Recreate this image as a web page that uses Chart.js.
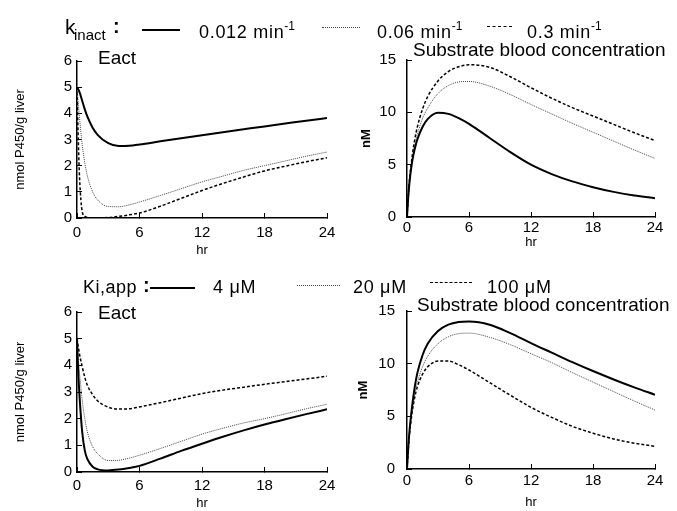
<!DOCTYPE html>
<html>
<head>
<meta charset="utf-8">
<script src="https://cdn.jsdelivr.net/npm/chart.js@4.4.0/dist/chart.umd.min.js"></script>
<style>
  body { margin: 0; background: #fff; }
  #fig { position: relative; width: 677px; height: 511px; background: #fff; overflow: hidden;
         font-family: "Liberation Sans", Arial, sans-serif; color: #000; }
  #fig canvas { position: absolute; }
  .t { position: absolute; white-space: nowrap; line-height: 1; }
  .lab { font-size: 18px; letter-spacing: 0.7px; }
  .lab sup { font-size: 12px; position: relative; top: -1px; letter-spacing: 0; }
  .ptitle { font-size: 19px; }
  .ln { position: absolute; height: 0; }
</style>
</head>
<body>
<div id="fig">
  <canvas id="eactK" width="350" height="229" style="left:0;top:31px"></canvas>
  <canvas id="concK" width="337" height="230" style="left:340px;top:30px"></canvas>
  <canvas id="eactKi" width="350" height="229" style="left:0;top:282px"></canvas>
  <canvas id="concKi" width="337" height="230" style="left:340px;top:281px"></canvas>

  <!-- top legend: k_inact -->
  <span class="t" style="left:65px;top:16px;font-size:21px">k</span>
  <span class="t" style="left:74px;top:27px;font-size:15px">inact</span>
  <span class="t" style="left:113px;top:16px;font-size:20px;font-weight:bold">:</span>
  <div class="ln" style="left:142px;top:29px;width:38px;border-top:2px solid #000"></div>
  <span class="t lab" id="kLab0" style="left:199px;top:21px"></span>
  <div class="ln" style="left:322px;top:27px;width:38px;border-top:1px dotted #444"></div>
  <span class="t lab" id="kLab1" style="left:377px;top:21px"></span>
  <div class="ln" style="left:487px;top:26px;width:25px;border-top:1.5px dashed #000"></div>
  <span class="t lab" id="kLab2" style="left:527px;top:21px"></span>

  <!-- bottom legend: Ki,app -->
  <span class="t lab" style="left:83px;top:278px;letter-spacing:0.5px">Ki,app</span>
  <span class="t" style="left:143px;top:275px;font-size:20px;font-weight:bold">:</span>
  <div class="ln" style="left:150px;top:287px;width:45px;border-top:2px solid #000"></div>
  <span class="t lab" id="kiLab0" style="left:213px;top:278px"></span>
  <div class="ln" style="left:297px;top:285px;width:43px;border-top:1px dotted #444"></div>
  <span class="t lab" id="kiLab1" style="left:353px;top:278px"></span>
  <div class="ln" style="left:430px;top:282px;width:42px;border-top:1.5px dashed #000"></div>
  <span class="t lab" id="kiLab2" style="left:487px;top:278px"></span>

  <!-- panel titles -->
  <span class="t ptitle" style="left:98px;top:48px">Eact</span>
  <span class="t ptitle" style="left:413px;top:40px">Substrate blood concentration</span>
  <span class="t ptitle" style="left:98px;top:303px">Eact</span>
  <span class="t ptitle" style="left:417px;top:295px">Substrate blood concentration</span>
</div>

<script>
// sampling times (hr), shared by every curve
const hours = [0, 0.1, 0.25, 0.5, 0.75, 1, 1.5, 2, 3, 4, 5, 6, 8, 10, 12, 14, 16, 18, 20, 22, 24];

// legend labels
const kinactLabels = ['0.012', '0.06', '0.3'];
const kiLabels = ['4 \u03bcM', '20 \u03bcM', '100 \u03bcM'];

// tick labels
const hourTicks = [0, 6, 12, 18, 24];
const eactTicks = [0, 1, 2, 3, 4, 5, 6];
const concTicks = [0, 5, 10, 15];

// Eact (nmol P450/g liver), varying k_inact
const eactK012 = [5.0, 4.93, 4.8, 4.48, 4.15, 3.87, 3.45, 3.17, 2.86, 2.75, 2.76, 2.81, 2.93, 3.05, 3.16, 3.28, 3.39, 3.5, 3.61, 3.72, 3.82];
const eactK06  = [5.0, 4.5, 3.8, 2.8, 2.1, 1.6, 1.0, 0.68, 0.44, 0.43, 0.5, 0.61, 0.86, 1.12, 1.38, 1.6, 1.82, 2.0, 2.18, 2.36, 2.52];
const eactK3   = [5.0, 3.3, 1.5, 0.25, 0.06, 0.02, 0.01, 0.01, 0.02, 0.06, 0.12, 0.19, 0.45, 0.75, 1.05, 1.32, 1.57, 1.8, 1.98, 2.15, 2.3];

// substrate blood concentration (nM), varying k_inact
const concK012 = [0, 1.6, 3.4, 5.3, 6.5, 7.4, 8.6, 9.35, 9.95, 9.85, 9.45, 8.9, 7.55, 6.2, 5.0, 4.1, 3.4, 2.85, 2.4, 2.05, 1.8];
const concK06  = [0, 1.6, 3.5, 5.5, 6.9, 7.9, 9.4, 10.4, 11.8, 12.55, 12.9, 12.95, 12.5, 11.7, 10.75, 9.85, 8.95, 8.1, 7.25, 6.4, 5.6];
const concK3   = [0, 1.7, 3.6, 5.8, 7.4, 8.6, 10.3, 11.5, 13.0, 13.9, 14.35, 14.55, 14.3, 13.4, 12.35, 11.35, 10.45, 9.65, 8.85, 8.05, 7.3];

// Eact, varying Ki,app
const eactKi4   = [5.0, 3.9, 2.8, 1.5, 0.8, 0.48, 0.2, 0.1, 0.06, 0.09, 0.15, 0.23, 0.5, 0.79, 1.06, 1.32, 1.56, 1.78, 1.98, 2.17, 2.35];
const eactKi20  = [5.0, 4.4, 3.7, 2.7, 2.0, 1.5, 0.95, 0.68, 0.43, 0.44, 0.52, 0.63, 0.88, 1.15, 1.42, 1.64, 1.84, 2.0, 2.18, 2.37, 2.54];
const eactKi100 = [5.0, 4.75, 4.4, 3.95, 3.55, 3.25, 2.9, 2.66, 2.43, 2.36, 2.37, 2.44, 2.6, 2.77, 2.94, 3.07, 3.18, 3.29, 3.39, 3.49, 3.59];

// substrate blood concentration, varying Ki,app
const concKi4   = [0, 1.7, 3.7, 6.0, 7.8, 9.1, 10.8, 11.9, 13.1, 13.7, 13.95, 14.0, 13.7, 12.9, 11.95, 11.05, 10.15, 9.3, 8.5, 7.75, 7.05];
const concKi20  = [0, 1.6, 3.5, 5.6, 7.1, 8.2, 9.7, 10.7, 11.9, 12.55, 12.85, 12.9, 12.5, 11.8, 10.95, 10.1, 9.15, 8.25, 7.35, 6.45, 5.6];
const concKi100 = [0, 1.6, 3.4, 5.4, 6.8, 7.8, 9.0, 9.7, 10.25, 10.25, 9.9, 9.4, 8.2, 7.0, 5.85, 4.9, 4.05, 3.4, 2.85, 2.45, 2.15];

// fill legend text
kinactLabels.forEach((l, i) => {
  document.getElementById('kLab' + i).innerHTML = l + ' min<sup>-1</sup>';
});
kiLabels.forEach((l, i) => {
  document.getElementById('kiLab' + i).textContent = l;
});

const FONT = '"Liberation Sans", Arial, sans-serif';
const lineStyles = [
  { borderColor: '#000', borderWidth: 2, borderDash: [] },
  { borderColor: '#444', borderWidth: 1, borderDash: [1, 1] },
  { borderColor: '#000', borderWidth: 1.5, borderDash: [3, 2] }
];

function toPoints(values) {
  return hours.map((h, i) => ({ x: h, y: values[i] }));
}

function makePanel(id, series, p) {
  const datasets = series.map((values, i) => Object.assign({
    data: toPoints(values),
    pointRadius: 0,
    fill: false,
    cubicInterpolationMode: 'monotone'
  }, lineStyles[i]));

  return new Chart(document.getElementById(id), {
    type: 'line',
    data: { datasets },
    options: {
      responsive: false,
      animation: false,
      events: [],
      layout: { padding: { top: p.padTop, right: p.padRight, left: 0, bottom: 0 } },
      plugins: { legend: { display: false }, tooltip: { enabled: false } },
      scales: {
        x: {
          type: 'linear', min: 0, max: 24,
          afterBuildTicks: s => { s.ticks = hourTicks.map(v => ({ value: v })); },
          afterFit: s => { s.height = p.xHeight; },
          grid: { display: true, drawOnChartArea: false, drawTicks: true, tickLength: -5, color: '#000', lineWidth: 1 },
          border: { display: true, color: '#000', width: 1.5 },
          ticks: { color: '#000', font: { family: FONT, size: 15 }, padding: p.xTickPad, maxRotation: 0 },
          title: { display: true, text: 'hr', color: '#000', font: { family: FONT, size: 13 }, padding: { top: 0, bottom: p.xTitlePad } }
        },
        y: {
          min: 0, max: p.yMax,
          afterBuildTicks: s => { s.ticks = p.yTicks.map(v => ({ value: v })); },
          afterFit: s => { s.width = p.yWidth; },
          grid: { display: true, drawOnChartArea: false, drawTicks: true, tickLength: -5, color: '#000', lineWidth: 1 },
          border: { display: true, color: '#000', width: 1.5 },
          ticks: { color: '#000', font: { family: FONT, size: 15 }, padding: p.yTickPad },
          title: { display: true, text: p.yTitle, color: '#000', font: { family: FONT, size: 13, weight: p.yBold ? 'bold' : 'normal' }, padding: { top: p.yTitlePad, bottom: 0 } }
        }
      }
    }
  });
}

makePanel('eactK', [eactK012, eactK06, eactK3], {
  yMax: 6, yTicks: eactTicks, yTitle: 'nmol P450/g liver', yBold: false,
  padTop: 30, padRight: 23, yWidth: 77, xHeight: 42,
  yTickPad: 10, xTickPad: 11, yTitlePad: 13, xTitlePad: 2
});
makePanel('concK', [concK012, concK06, concK3], {
  yMax: 15, yTicks: concTicks, yTitle: 'nM', yBold: true,
  padTop: 30, padRight: 22, yWidth: 67, xHeight: 43,
  yTickPad: 16, xTickPad: 7, yTitlePad: 19, xTitlePad: 10
});
makePanel('eactKi', [eactKi4, eactKi20, eactKi100], {
  yMax: 6, yTicks: eactTicks, yTitle: 'nmol P450/g liver', yBold: false,
  padTop: 30, padRight: 23, yWidth: 77, xHeight: 39,
  yTickPad: 10, xTickPad: 10, yTitlePad: 13, xTitlePad: 0
});
makePanel('concKi', [concKi4, concKi20, concKi100], {
  yMax: 15, yTicks: concTicks, yTitle: 'nM', yBold: true,
  padTop: 30, padRight: 22, yWidth: 67, xHeight: 42,
  yTickPad: 17, xTickPad: 8, yTitlePad: 16, xTitlePad: 1
});
</script>
</body>
</html>
